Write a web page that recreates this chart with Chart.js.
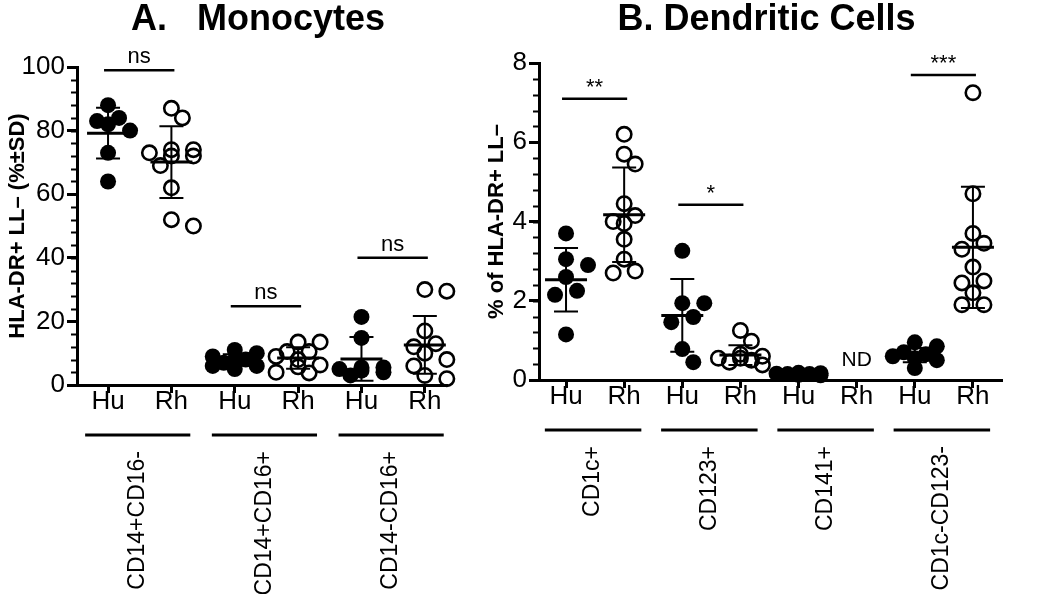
<!DOCTYPE html>
<html>
<head>
<meta charset="utf-8">
<script src="https://cdn.jsdelivr.net/npm/chart.js@4"></script>
<style>
  body { margin: 0; background: #fff; }
  #wrap { position: relative; width: 1050px; height: 594px; }
  #mono-chart { position: absolute; left: 0; top: 0; }
  #dc-chart { position: absolute; left: 480px; top: 0; }
</style>
</head>
<body>
<div id="wrap">
  <canvas id="mono-chart" width="480" height="594"></canvas>
  <canvas id="dc-chart" width="570" height="594"></canvas>
</div>
<script>
// columns go Hu (filled), Rh (open), Hu, Rh ...
let species = ["Hu", "Rh"];

// A. Monocytes
let monoGroups = ["CD14+CD16-", "CD14+CD16+", "CD14-CD16+"];
let monoHu1 = [88, 84, 83, 82, 80, 73, 64];
let monoRh1 = [87, 84, 74, 74, 73, 72, 72, 69, 62, 52, 50];
let monoHu2 = [11, 10, 9, 8, 8, 7, 6, 6, 5];
let monoRh2 = [13.5, 13.5, 10.5, 10.5, 9, 8, 6.3, 5.7, 4, 3.8];
let monoHu3 = [21.4, 14.8, 5.5, 5.5, 5, 4.5, 4, 3];
let monoRh3 = [30, 29.5, 17, 13, 12, 10, 8, 6, 3, 2];
let monoMean = [79.2, 70.1, 7.9, 8.5, 8.2, 12.6];
let monoSD = [8.0, 11.3, 1.8, 3.4, 6.9, 9.1];
let monoSig = ["ns", "ns", "ns"];
let monoSigY = [99, 24.8, 40];
let monoTicks = [0, 20, 40, 60, 80, 100];

// B. Dendritic cells
let dcGroups = ["CD1c+", "CD123+", "CD141+", "CD1c-CD123-"];
let dcHu1 = [3.7, 3.05, 2.9, 2.6, 2.25, 2.15, 1.15];
let dcRh1 = [6.2, 5.7, 5.45, 4.45, 4.15, 4.0, 3.95, 3.55, 3.05, 2.75, 2.7];
let dcHu2 = [3.26, 1.94, 1.94, 1.59, 1.46, 0.78, 0.45];
let dcRh2 = [1.25, 0.98, 0.65, 0.6, 0.55, 0.55, 0.5, 0.45, 0.38];
let dcHu3 = [0.18, 0.17, 0.16, 0.15, 0.15, 0.13, 0.12];
let dcRh3 = []; // not detected
let dcHu4 = [0.95, 0.85, 0.7, 0.65, 0.6, 0.55, 0.5, 0.3];
let dcRh4 = [7.25, 4.7, 3.7, 3.45, 3.3, 2.85, 2.5, 2.45, 2.2, 1.9, 1.9];
let dcMean = [2.53, 4.17, 1.63, 0.63, 0.15, null, 0.63, 3.35];
let dcSD = [0.8, 1.19, 0.92, 0.25, 0.03, null, 0.18, 1.53];
let dcSig = ["**", "*", "", "***"];
let dcSigY = [7.1, 4.42, null, 7.7];
let dcTicks = [0, 2, 4, 6, 8];

Chart.defaults.font.family = "'Liberation Sans', Arial, sans-serif";
Chart.defaults.color = "#000";

function makeDatasets(cols) {
  return cols.map(function (vals, i) {
    let filled = i % 2 === 0;
    return {
      col: i + 1,
      values: vals,
      data: vals.map(function (v) { return { x: i + 1, y: v }; }),
      pointRadius: filled ? 8 : 7.2,
      pointHoverRadius: filled ? 8 : 7.2,
      pointBackgroundColor: filled ? "#000" : "rgba(0,0,0,0)",
      pointBorderColor: "#000",
      pointBorderWidth: filled ? 0 : 2.6,
      clip: false,
    };
  });
}

// spread overlapping dots sideways, like a column scatter plot
function swarm(chart) {
  let xs = chart.scales.x, ys = chart.scales.y;
  let unit = xs.getPixelForValue(1) - xs.getPixelForValue(0);
  chart.data.datasets.forEach(function (ds) {
    let minDist = 17;
    let step = 11;
    let placed = [];
    let pts = ds.values
      .map(function (v) { return { v: v, py: ys.getPixelForValue(v) }; })
      .sort(function (a, b) { return a.py - b.py; });
    ds.data = pts.map(function (p) {
      let best = 0, bestCost = Infinity;
      for (let k of [0, 1, -1, 2, -2]) {
        let px = k * step, hit = 0;
        placed.forEach(function (q) {
          let d = Math.hypot(px - q.px, p.py - q.py);
          if (d < minDist) hit += minDist - d;
        });
        let cost = hit + 3 * Math.abs(k);
        if (cost < bestCost) { bestCost = cost; best = px; }
        if (hit === 0) break;
      }
      placed.push({ px: best, py: p.py });
      return { x: ds.col + best / unit, y: p.v };
    });
  });
  chart.update("none");
}

let decor = {
  id: "decor",
  afterDatasetsDraw(chart, args, o) {
    let ctx = chart.ctx, xs = chart.scales.x, ys = chart.scales.y;
    ctx.save();
    ctx.strokeStyle = "#000";
    o.means.forEach(function (m, i) {
      if (m === null) return;
      let x = xs.getPixelForValue(i + 1);
      let yM = ys.getPixelForValue(m);
      let yHi = ys.getPixelForValue(m + o.sds[i]);
      let yLo = ys.getPixelForValue(Math.max(m - o.sds[i], 0));
      ctx.lineWidth = 2;
      ctx.beginPath();
      ctx.moveTo(x, yHi); ctx.lineTo(x, yLo);
      ctx.moveTo(x - 12, yHi); ctx.lineTo(x + 12, yHi);
      ctx.moveTo(x - 12, yLo); ctx.lineTo(x + 12, yLo);
      ctx.stroke();
      ctx.lineWidth = 3;
      ctx.beginPath();
      ctx.moveTo(x - 21, yM); ctx.lineTo(x + 21, yM);
      ctx.stroke();
    });
    ctx.restore();
  },
  afterDraw(chart, args, o) {
    let ctx = chart.ctx, xs = chart.scales.x, ys = chart.scales.y;
    let area = chart.chartArea;
    ctx.save();
    ctx.strokeStyle = "#000";
    ctx.fillStyle = "#000";

    // title
    ctx.font = "bold 36px 'Liberation Sans', Arial, sans-serif";
    ctx.textAlign = "center";
    ctx.textBaseline = "alphabetic";
    ctx.fillText(o.title, (area.left + area.right) / 2 - 4, 30);

    // minor ticks on y
    ctx.lineWidth = 2;
    ctx.beginPath();
    for (let v = ys.min; v <= ys.max + 1e-9; v += o.minor) {
      let y = Math.round(ys.getPixelForValue(v)) + 0.5;
      ctx.moveTo(area.left, y);
      ctx.lineTo(area.left - 6, y);
    }
    ctx.stroke();

    // significance brackets
    o.sig.forEach(function (s, g) {
      if (!s) return;
      let x1 = xs.getPixelForValue(2 * g + 1) - 4;
      let x2 = xs.getPixelForValue(2 * g + 2) + 3;
      let y = ys.getPixelForValue(o.sigY[g]);
      ctx.lineWidth = 2.5;
      ctx.beginPath();
      ctx.moveTo(x1, y); ctx.lineTo(x2, y);
      ctx.stroke();
      ctx.font = "22px 'Liberation Sans', Arial, sans-serif";
      ctx.textAlign = "center";
      ctx.textBaseline = "alphabetic";
      ctx.fillText(s, (x1 + x2) / 2, y - (s === "ns" ? 7 : 5));
    });

    // not detected
    if (o.nd) {
      ctx.font = "21px 'Liberation Sans', Arial, sans-serif";
      ctx.textAlign = "center";
      ctx.textBaseline = "middle";
      ctx.fillText("ND", xs.getPixelForValue(o.nd.col), ys.getPixelForValue(o.nd.y));
    }

    // group lines and rotated group names
    o.groups.forEach(function (name, g) {
      let mid = xs.getPixelForValue(2 * g + 1.5) - 2;
      let half = (xs.getPixelForValue(1) - xs.getPixelForValue(0)) * 0.83;
      let y = area.bottom + 50;
      ctx.lineWidth = 3;
      ctx.beginPath();
      ctx.moveTo(mid - half, y); ctx.lineTo(mid + half, y);
      ctx.stroke();
      ctx.save();
      ctx.translate(mid, area.bottom + 66);
      ctx.rotate(-Math.PI / 2);
      ctx.font = "23px 'Liberation Sans', Arial, sans-serif";
      ctx.textAlign = "right";
      ctx.textBaseline = "middle";
      ctx.fillText(name, 0, 0);
      ctx.restore();
    });
    ctx.restore();
  },
};

function makeChart(id, cols, opt) {
  let nCols = cols.length;
  let colTicks = [];
  for (let i = 1; i <= nCols; i++) colTicks.push(i);
  let canvas = document.getElementById(id);
  let chart = new Chart(canvas.getContext("2d"), {
    type: "scatter",
    data: { datasets: makeDatasets(cols) },
    options: {
      responsive: false,
      animation: false,
      devicePixelRatio: 1,
      layout: { padding: opt.padding },
      plugins: {
        legend: { display: false },
        tooltip: { enabled: false },
        decor: opt.decor,
      },
      scales: {
        x: {
          type: "linear",
          min: opt.xMin,
          max: opt.xMax,
          afterBuildTicks: function (s) {
            s.ticks = colTicks.map(function (v) { return { value: v }; });
          },
          afterFit: function (s) { s.height = 60; },
          ticks: {
            callback: function (v) { return species[(v - 1) % 2]; },
            font: { size: 26 },
            padding: -7,
            maxRotation: 0,
            autoSkip: false,
          },
          grid: { drawOnChartArea: false, tickLength: 8, tickWidth: 3, tickColor: "#000" },
          border: { display: true, color: "#000", width: 3 },
        },
        y: {
          min: opt.ticks[0],
          max: opt.ticks[opt.ticks.length - 1],
          afterFit: function (s) { s.width = opt.yWidth; },
          ticks: { stepSize: opt.ticks[1] - opt.ticks[0], font: { size: 26 }, padding: 2 },
          grid: { drawOnChartArea: false, tickLength: 10, tickWidth: 3, tickColor: "#000" },
          border: { display: true, color: "#000", width: 3 },
          title: {
            display: true,
            text: opt.yTitle,
            font: { size: 22, weight: "bold" },
            padding: { top: opt.titlePad, bottom: 0 },
          },
        },
      },
    },
    plugins: [decor],
  });
  swarm(chart);
  return chart;
}

makeChart("mono-chart", [monoHu1, monoRh1, monoHu2, monoRh2, monoHu3, monoRh3], {
  padding: { left: 0, top: 67, right: 33, bottom: 149 },
  yWidth: 77,
  xMin: 0.51,
  xMax: 6.35,
  ticks: monoTicks,
  yTitle: "HLA-DR+ LL– (%±SD)",
  titlePad: 5,
  decor: {
    title: "A.   Monocytes",
    minor: 4,
    means: monoMean,
    sds: monoSD,
    sig: monoSig,
    sigY: monoSigY,
    groups: monoGroups,
  },
});

makeChart("dc-chart", [dcHu1, dcRh1, dcHu2, dcRh2, dcHu3, dcRh3, dcHu4, dcRh4], {
  padding: { left: 0, top: 63, right: 48, bottom: 154 },
  yWidth: 59,
  xMin: 0.535,
  xMax: 8.5,
  ticks: dcTicks,
  yTitle: "% of HLA-DR+ LL–",
  titlePad: 4,
  decor: {
    title: "B. Dendritic Cells",
    minor: 0.4,
    means: dcMean,
    sds: dcSD,
    sig: dcSig,
    sigY: dcSigY,
    nd: { col: 6, y: 0.5 },
    groups: dcGroups,
  },
});
</script>
</body>
</html>
